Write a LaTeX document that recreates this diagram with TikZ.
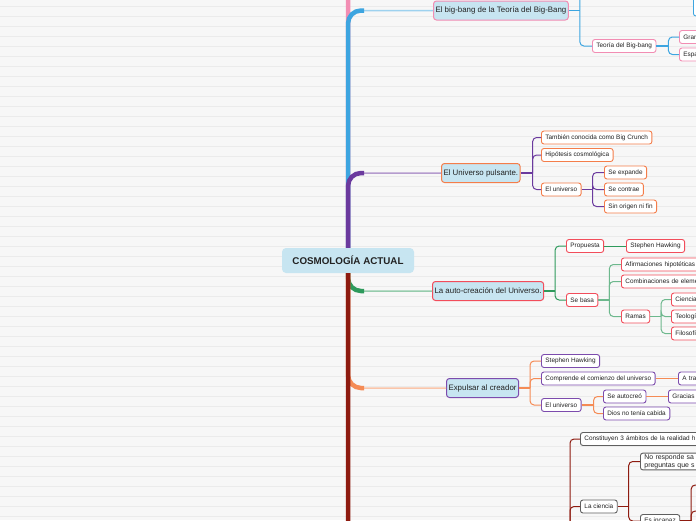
\documentclass[tikz,border=0pt]{standalone}
\usepackage{fontspec}
\setmainfont{Liberation Sans}
\usetikzlibrary{calc}

\definecolor{paper}{HTML}{F7F7F7}
\definecolor{rule}{HTML}{EBEBEB}
\definecolor{txt}{HTML}{222222}
\definecolor{topicfill}{HTML}{C7E5F1}
\definecolor{bbBlue}{HTML}{3DA5E0}
\definecolor{bbPink}{HTML}{F28DB3}
\definecolor{puPurple}{HTML}{6B3A9E}
\definecolor{puOrange}{HTML}{F47D4A}
\definecolor{acGreen}{HTML}{2E9A5C}
\definecolor{acRed}{HTML}{F24D5B}
\definecolor{exOrange}{HTML}{F58B55}
\definecolor{exPurple}{HTML}{7C4BAD}
\definecolor{ciRed}{HTML}{8E1B10}
\definecolor{ciGray}{HTML}{5F5F5F}

\begin{document}
\begin{tikzpicture}[
    x=1pt, y=-1pt,
    root/.style={
        fill=topicfill, text=txt, rounded corners=4pt,
        font=\fontsize{9.8}{11}\selectfont\bfseries,
        minimum width=132pt, minimum height=25pt, inner sep=0pt
    },
    topic/.style={
        draw=#1, fill=topicfill, text=txt, line width=1pt, rounded corners=3pt,
        font=\fontsize{7.9}{9}\selectfont,
        minimum height=19pt, inner xsep=2pt, inner ysep=0pt, anchor=west
    },
    sub/.style={
        draw=#1, fill=white, text=txt, line width=0.9pt, rounded corners=2.5pt,
        font=\fontsize{6.4}{7.6}\selectfont,
        minimum height=13pt, inner xsep=4pt, inner ysep=1pt, anchor=west
    },
    cut/.style={text width=#1, align=left},
    trunk/.style={draw=#1, line width=4.5pt, rounded corners=13pt},
    twig/.style={draw=#1!50, line width=1.5pt, rounded corners=13pt},
    lnk/.style={draw=#1, line width=1pt, rounded corners=4pt},
]

\useasboundingbox (0,0) rectangle (696,520);
\clip (0,0) rectangle (696,520);

% --- paper with ruled lines ---
\fill[paper] (0,0) rectangle (696,520);
\foreach \y in {6,16,...,516}
    \draw[rule, line width=0.7pt] (0,\y) -- (696,\y);

% --- COSMOLOGIA ACTUAL (centre) ---
\node[root] (C) at (348,260.5) {COSMOLOGÍA ACTUAL};

% --- El big-bang (top) ---
\node[topic=bbPink] (BB) at (433,10.5) {El big-bang de la Teoría del Big-Bang};
\node[sub=bbPink] (TB) at (592,46) {Teoría del Big-bang};
\node[sub=bbPink, cut=40pt] (GR) at (679,37) {Gran};
\node[sub=bbPink, cut=40pt] (ES) at (679,54.5) {Espa};
\node[sub=bbBlue, cut=40pt, minimum height=22pt] (BX) at (693,5) {};

% --- El Universo pulsante ---
\node[topic=puOrange] (UP) at (441,173) {El Universo pulsante.};
\node[sub=puOrange] (BC) at (541,137.5) {También conocida como Big Crunch};
\node[sub=puOrange] (HC) at (541,155) {Hipótesis cosmológica};
\node[sub=puOrange] (EU) at (541,189.5) {El universo};
\node[sub=puOrange] (SE) at (604,172.5) {Se expande};
\node[sub=puOrange] (SC) at (604,189.5) {Se contrae};
\node[sub=puOrange] (SO) at (604,206.5) {Sin origen ni fin};

% --- La auto-creacion ---
\node[topic=acRed] (AC) at (432,291) {La auto-creación del Universo.};
\node[sub=acRed] (PR) at (566,246) {Propuesta};
\node[sub=acRed] (SH) at (626,246) {Stephen Hawking};
\node[sub=acRed] (SB) at (566,300) {Se basa};
\node[sub=acRed, cut=90pt] (AH) at (621,264.5) {Afirmaciones hipotéticas};
\node[sub=acRed, cut=90pt] (CE) at (621,281.5) {Combinaciones de eleme};
\node[sub=acRed] (RA) at (621,316.5) {Ramas};
\node[sub=acRed, cut=40pt] (CI) at (671,299.5) {Ciencia};
\node[sub=acRed, cut=40pt] (TE) at (671,316.5) {Teología};
\node[sub=acRed, cut=40pt] (FI) at (671,333.5) {Filosofía};

% --- Expulsar al creador ---
\node[topic=exPurple] (EC) at (446,388) {Expulsar al creador};
\node[sub=exPurple] (SH2) at (541,361) {Stephen Hawking};
\node[sub=exPurple] (CU) at (541,378.5) {Comprende el comienzo del universo};
\node[sub=exPurple, cut=40pt] (AT) at (678,378.5) {A tra};
\node[sub=exPurple] (EU2) at (541,405) {El universo};
\node[sub=exPurple] (SA) at (603,396.5) {Se autocreó};
\node[sub=exPurple, cut=40pt] (GC) at (668,396.5) {Gracias};
\node[sub=exPurple] (DN) at (603,413.5) {Dios no tenía cabida};

% --- bottom branch (its topic lies below the page) ---
\node[sub=ciGray, cut=140pt] (TA) at (580,439) {Constituyen 3 ámbitos de la realidad h};
\node[sub=ciGray] (LC) at (580,506.5) {La ciencia};
\node[sub=ciGray, cut=80pt, font=\fontsize{6.9}{8.4}\selectfont] (NR) at (640,461.5) {No responde sa\\preguntas que s};
\node[sub=ciGray] (EI) at (640,521) {Es incapaz};

% --- Connections ---
% off-page ends
\coordinate (top0) at (440,-40);
\coordinate (bot0) at (470,560);
\coordinate (bb0) at (592,-25);
\coordinate (amb) at (559,560);
\coordinate (inc1) at (706,485);
\coordinate (inc2) at (706,511);

% trunk, upper half
\draw[trunk=bbPink] (C.north) |- (top0);
\draw[twig=bbBlue] (C.north) |- (BB.west);
\draw[trunk=bbBlue] (C.north) |- ($(C.north |- BB.west)+(16,0)$);
\draw[twig=puPurple] (C.north) |- (UP.west);
\draw[trunk=puPurple] (C.north) |- ($(C.north |- UP.west)+(16,0)$);

% trunk, lower half
\draw[twig=acGreen] (C.south) |- (AC.west);
\draw[trunk=acGreen] (C.south) |- ($(C.south |- AC.west)+(16,0)$);
\draw[twig=exOrange] (C.south) |- (EC.west);
\draw[trunk=exOrange] (C.south) |- ($(C.south |- EC.west)+(16,0)$);
\draw[trunk=ciRed] (C.south) |- (bot0);

% El big-bang
\draw[lnk=bbBlue, line width=1.6pt] (BB.east) -- ++(11,0);
\foreach \n in {bb0,TB.west}
    \draw[lnk=bbBlue] (BB.east) ++(11,0) |- (\n);
\draw[lnk=bbBlue, line width=1.6pt] (TB.east) -- ++(12,0);
\foreach \n in {GR,ES}
    \draw[lnk=bbBlue] (TB.east) ++(12,0) |- (\n.west);

% El Universo pulsante
\draw[lnk=puPurple, line width=1.6pt] (UP.east) -- ++(12,0);
\foreach \n in {BC,HC,EU}
    \draw[lnk=puPurple] (UP.east) ++(12,0) |- (\n.west);
\draw[lnk=puPurple, line width=1.6pt] (EU.east) -- ++(11,0);
\foreach \n in {SE,SC,SO}
    \draw[lnk=puPurple] (EU.east) ++(11,0) |- (\n.west);

% La auto-creacion
\draw[lnk=acGreen, line width=1.6pt] (AC.east) -- ++(11,0);
\foreach \n in {PR,SB}
    \draw[lnk=acGreen] (AC.east) ++(11,0) |- (\n.west);
\draw[lnk=acGreen] (PR.east) -- (SH.west);
\draw[lnk=acGreen!70, line width=1.6pt] (SB.east) -- ++(11,0);
\foreach \n in {AH,CE,RA}
    \draw[lnk=acGreen!70] (SB.east) ++(11,0) |- (\n.west);
\draw[lnk=acGreen!70, line width=1.6pt] (RA.east) -- ++(11,0);
\foreach \n in {CI,TE,FI}
    \draw[lnk=acGreen!70] (RA.east) ++(11,0) |- (\n.west);

% Expulsar al creador
\draw[lnk=exOrange, line width=1.6pt] (EC.east) -- ++(11,0);
\foreach \n in {SH2,CU,EU2}
    \draw[lnk=exOrange] (EC.east) ++(11,0) |- (\n.west);
\draw[lnk=exOrange] (CU.east) -- (AT.west);
\draw[lnk=exOrange, line width=1.6pt] (EU2.east) -- ++(12,0);
\foreach \n in {SA,DN}
    \draw[lnk=exOrange] (EU2.east) ++(12,0) |- (\n.west);
\draw[lnk=exOrange] (SA.east) -- (GC.west);

% bottom branch
\foreach \n in {TA,LC}
    \draw[lnk=ciRed] (amb) ++(11,0) |- (\n.west);
\draw[lnk=ciRed, line width=1.6pt] (LC.east) -- ++(11,0);
\foreach \n in {NR,EI}
    \draw[lnk=ciRed] (LC.east) ++(11,0) |- (\n.west);
\draw[lnk=ciRed, line width=1.6pt] (EI.east) -- ++(11,0);
\foreach \n in {inc1,inc2}
    \draw[lnk=ciRed] (EI.east) ++(11,0) |- (\n);

\end{tikzpicture}
\end{document}
